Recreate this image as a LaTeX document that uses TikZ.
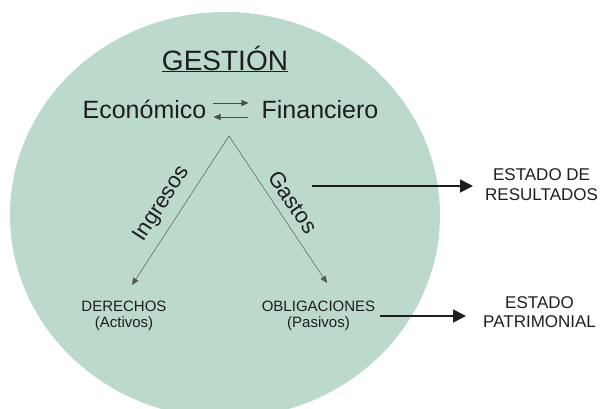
\documentclass[tikz,border=0pt]{standalone}
\usepackage{fontspec}
\setmainfont{Liberation Sans}
\usetikzlibrary{arrows.meta}
\definecolor{gestgreen}{RGB}{188,218,203}
\definecolor{ink}{RGB}{30,30,30}
\begin{document}
\begin{tikzpicture}[x=1pt, y=-1pt, >={Triangle[length=7pt,width=6pt]},
    txt/.style={text=ink, inner sep=0pt},
    thinarrow/.style={->, draw=ink!75, line width=0.5pt},
    swaparrow/.style={->, draw=ink!80, line width=0.8pt},
    bigarrow/.style={-{Triangle[length=13pt,width=13pt]}, draw=ink, line width=1.8pt}]
  \useasboundingbox (0,0) rectangle (601,408);
  \fill[gestgreen] (225,215) ellipse [x radius=215, y radius=203];
  \node[txt, font=\fontsize{28}{30}\selectfont, anchor=base] (gestion) at (225,70) {\underline{GESTIÓN}};
  \node[txt, font=\fontsize{25}{28}\selectfont, anchor=base] (econ) at (144.5,118) {Económico};
  \node[txt, font=\fontsize{25}{28}\selectfont, anchor=base] (finan) at (320,118) {Financiero};
  \draw[swaparrow] ([xshift=6pt,yshift=15pt]econ.base east) -- ([xshift=-13pt,yshift=15pt]finan.base west);
  \draw[swaparrow] ([xshift=-13pt,yshift=1pt]finan.base west) -- ([xshift=7pt,yshift=1pt]econ.base east);
  % the V
  \coordinate (apex) at (229,136);
  \node[txt, font=\fontsize{15}{16}\selectfont, align=center] (derechos) at (124,316) {DERECHOS\\(Activos)};
  \node[txt, font=\fontsize{15}{16}\selectfont, align=center] (obligaciones) at (318.5,316) {OBLIGACIONES\\(Pasivos)};
  \draw[thinarrow] (apex) -- ([xshift=8pt,yshift=16pt]derechos.north);
  \draw[thinarrow] (apex) -- ([xshift=8.5pt,yshift=18pt]obligaciones.north);
  \node[txt, font=\fontsize{22}{24}\selectfont, rotate=57] (ingresos) at (162,204) {Ingresos};
  \node[txt, font=\fontsize{22}{24}\selectfont, rotate=-56] (gastos) at (293,202) {Gastos};
  % states
  \node[txt, font=\fontsize{17}{20}\selectfont, align=center, anchor=west] (resultados) at (485,185) {ESTADO DE\\RESULTADOS};
  \node[txt, font=\fontsize{17}{19}\selectfont, align=center, anchor=west] (patrimonial) at (483,312) {ESTADO\\PATRIMONIAL};
  \coordinate (gastos out) at (312,186);
  \draw[bigarrow, shorten >=12pt] (gastos out) -- (gastos out -| resultados.west);
  \draw[bigarrow, shorten >=17pt] ([xshift=5pt]obligaciones.east) -- (obligaciones.east -| patrimonial.west);
\end{tikzpicture}
\end{document}
